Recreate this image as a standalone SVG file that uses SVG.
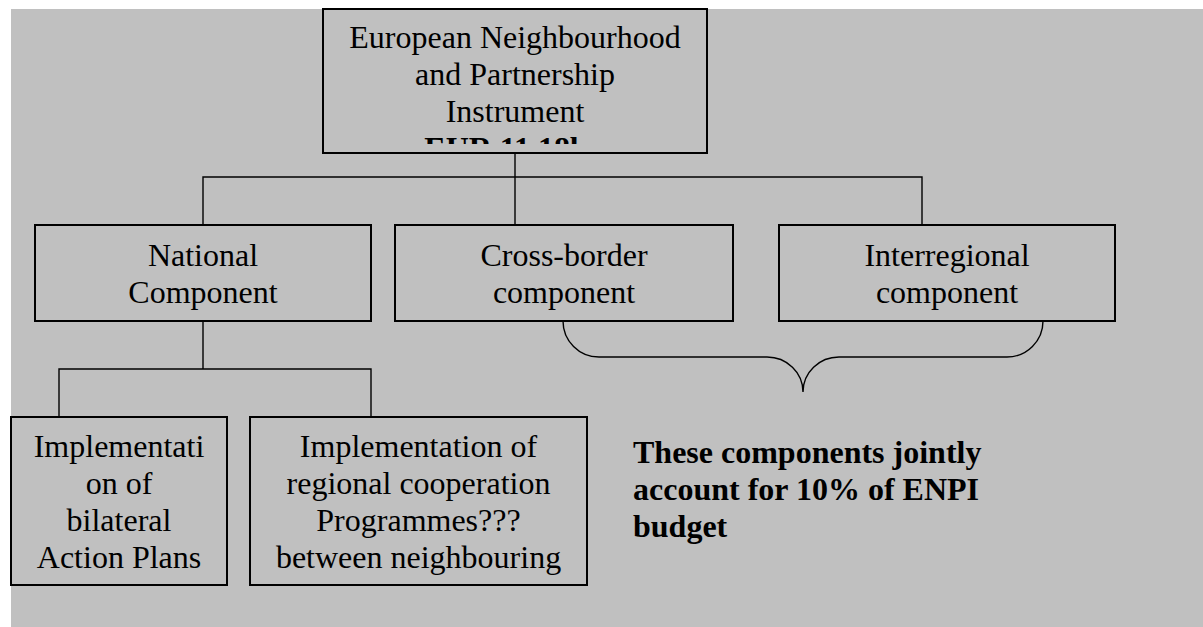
<svg xmlns="http://www.w3.org/2000/svg" width="1203" height="627" viewBox="0 0 1203 627">
<style>
.box{fill:#c0c0c0;stroke:#000;stroke-width:2}
.t{font-family:"Liberation Serif","Times New Roman",serif;font-size:32px;fill:#000;text-anchor:middle}
.b{font-family:"Liberation Serif","Times New Roman",serif;font-size:32px;font-weight:bold;fill:#000}
.c{fill:none;stroke:#000;stroke-width:1.4}
</style>
<defs>
<clipPath id="clipTop"><rect x="324" y="10" width="382" height="134"/></clipPath>
</defs>
<rect x="0" y="0" width="1203" height="627" fill="#fff"/>
<rect x="11" y="9" width="1192" height="618" fill="#c0c0c0"/>
<g id="connectors">
<path class="c" d="M203,225 V177 H922 V225 M515,153 V225"/>
<path class="c" d="M203,321 V369 M59,417 V369 H371 V417"/>
<path class="c" d="M563,321 A36,36 0 0 0 599,357 H767 A36,35 0 0 1 803,392 A36,35 0 0 1 839,357 H1007 A36,36 0 0 0 1043,321"/>
</g>
<g id="enpi">
<rect class="box" x="323" y="9" width="384" height="144"/>
<g clip-path="url(#clipTop)">
<text class="t" x="515" y="48">European Neighbourhood</text>
<text class="t" x="515" y="85">and Partnership</text>
<text class="t" x="515" y="122">Instrument</text>
<text class="t" x="515" y="159" font-weight="bold">EUR 11.18bn</text>
</g>
</g>
<g id="national">
<rect class="box" x="35" y="225" width="336" height="96"/>
<text class="t" x="203" y="266">National</text>
<text class="t" x="203" y="303">Component</text>
</g>
<g id="crossborder">
<rect class="box" x="395" y="225" width="338" height="96"/>
<text class="t" x="564" y="266">Cross-border</text>
<text class="t" x="564" y="303">component</text>
</g>
<g id="interregional">
<rect class="box" x="779" y="225" width="336" height="96"/>
<text class="t" x="947" y="266">Interregional</text>
<text class="t" x="947" y="303">component</text>
</g>
<g id="bilateral">
<rect class="box" x="11" y="417" width="216" height="168"/>
<text class="t" x="119" y="457">Implementati</text>
<text class="t" x="119" y="494">on of</text>
<text class="t" x="119" y="531">bilateral</text>
<text class="t" x="119" y="568">Action Plans</text>
</g>
<g id="regional">
<rect class="box" x="250" y="417" width="337" height="168"/>
<text class="t" x="418.5" y="457">Implementation of</text>
<text class="t" x="418.5" y="494">regional cooperation</text>
<text class="t" x="418.5" y="531">Programmes???</text>
<text class="t" x="418.5" y="568">between neighbouring</text>
</g>
<g id="note">
<text class="b" x="633" y="463">These components jointly</text>
<text class="b" x="633" y="500">account for 10% of ENPI</text>
<text class="b" x="633" y="537">budget</text>
</g>
</svg>
